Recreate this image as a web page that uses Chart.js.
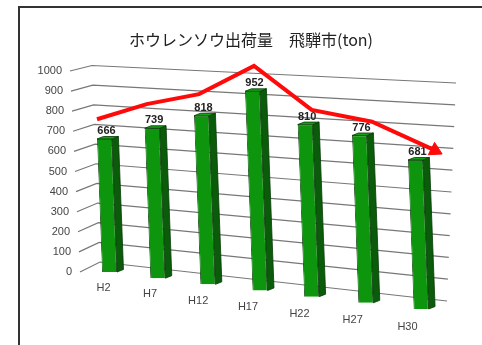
<!DOCTYPE html>
<html>
<head>
<meta charset="utf-8">
<script src="https://cdn.jsdelivr.net/npm/chart.js@4/dist/chart.umd.min.js"></script>
<style>
  html, body { margin: 0; padding: 0; background: #fff; }
  #wrap { width: 482px; height: 345px; }
</style>
</head>
<body>
<div id="wrap"><canvas id="chart" width="482" height="345"></canvas></div>
<script>
const categories = ['H2', 'H7', 'H12', 'H17', 'H22', 'H27', 'H30'];
const shipments = [666, 739, 818, 952, 810, 776, 681];
const trend = [765, 858, 923, 1073, 879, 840, 725];
const yTicks = [0, 100, 200, 300, 400, 500, 600, 700, 800, 900, 1000];

// rough perspective of the Excel 3D column chart
const lerp = (a, b, t) => a + (b - a) * t;
const colX = u => 104.5 + 311 * u + 30 * (u * u - u);
const trendX = u => 97 + 338 * u + 48 * (u * u - u);
const floorY = u => 272 + 37 * u;
const fullH = u => 199.7 + 19.1 * u;
const lean = 0.038;
// back wall: tick start (A), wall corner (B), right end (C), for value 0 and max
const wallA = [[80, 272], [70, 71]];
const wallB = [[100, 262], [92, 65.5]];
const wallC = [[447, 301], [456, 83]];
const wallPt = (w, f) => [lerp(w[0][0], w[1][0], f), lerp(w[0][1], w[1][1], f)];

function plane(chart, px, py) {
  const x = chart.scales.x, y = chart.scales.y;
  return {
    u: (px - x.left) / (x.right - x.left),
    f: (y.bottom - py) / (y.bottom - y.top)
  };
}

function leanDraw(ctx) {
  ctx.save();
  ctx.transform(1, 0, lean, 1, -lean * this.y, 0);
  Chart.BarElement.prototype.draw.call(this, ctx);
  ctx.restore();
}

const perspective = {
  id: 'perspective',
  beforeDraw(chart) {
    const ctx = chart.ctx;
    ctx.save();
    ctx.strokeStyle = '#333';
    ctx.lineWidth = 2;
    ctx.beginPath();
    ctx.moveTo(19, 345);
    ctx.lineTo(19, 7);
    ctx.lineTo(482, 7);
    ctx.stroke();
    ctx.restore();
  },
  afterDatasetsUpdate(chart) {
    chart.data.datasets.forEach((ds, di) => {
      const meta = chart.getDatasetMeta(di);
      meta.data.forEach(el => {
        const p = plane(chart, el.x, el.y);
        if (ds.type === 'bar') {
          const b = plane(chart, el.x, el.base);
          el.x = colX(p.u);
          el.y = floorY(p.u) - fullH(p.u) * p.f;
          el.base = floorY(p.u) - fullH(p.u) * b.f;
          el.width = 15;
          el.draw = leanDraw;
        } else {
          el.x = trendX(p.u);
          el.y = floorY(p.u) - fullH(p.u) * p.f;
        }
      });
    });
  },
  beforeDatasetsDraw(chart) {
    const ctx = chart.ctx;
    const ys = chart.scales.y, xs = chart.scales.x;
    ctx.save();
    ctx.strokeStyle = '#777';
    ctx.lineWidth = 1.2;
    ctx.font = '11px "Liberation Sans", Arial, sans-serif';
    ctx.fillStyle = '#444';
    ctx.textAlign = 'right';
    ctx.textBaseline = 'middle';
    yTicks.forEach(v => {
      const f = plane(chart, xs.left, ys.getPixelForValue(v)).f;
      const a = wallPt(wallA, f), b = wallPt(wallB, f), c = wallPt(wallC, f);
      ctx.beginPath();
      ctx.moveTo(a[0], a[1]);
      ctx.lineTo(b[0], b[1]);
      ctx.lineTo(c[0], c[1]);
      ctx.stroke();
      ctx.fillText(String(v), a[0] - 8, a[1]);
    });
    ctx.textAlign = 'center';
    categories.forEach((lab, i) => {
      const u = plane(chart, xs.getPixelForValue(i), ys.bottom).u;
      ctx.fillText(lab, colX(u) - 1 - 7 * u, floorY(u) + 16 + 1.5 * u);
    });
    ctx.restore();
  },
  afterDatasetDraw(chart, args) {
    const ds = chart.data.datasets[args.index];
    if (ds.type !== 'bar') return;
    const ctx = chart.ctx;
    const dx = 6.5, dy = 2.5;
    args.meta.data.forEach((el, i) => {
      const l = el.x - el.width / 2, r = el.x + el.width / 2;
      const top = el.y, base = el.base;
      ctx.save();
      ctx.transform(1, 0, lean, 1, -lean * top, 0);
      ctx.lineWidth = 0.8;
      ctx.strokeStyle = '#073a07';
      ctx.fillStyle = '#0a5c0a';
      ctx.beginPath();
      ctx.moveTo(r, top);
      ctx.lineTo(r + dx, top - dy);
      ctx.lineTo(r + dx, base - dy);
      ctx.lineTo(r, base);
      ctx.closePath();
      ctx.fill();
      ctx.stroke();
      ctx.fillStyle = '#14a014';
      ctx.beginPath();
      ctx.moveTo(l, top);
      ctx.lineTo(l + dx, top - dy);
      ctx.lineTo(r + dx, top - dy);
      ctx.lineTo(r, top);
      ctx.closePath();
      ctx.fill();
      ctx.stroke();
      ctx.restore();
      ctx.save();
      ctx.fillStyle = '#222';
      ctx.font = 'bold 11px "Liberation Sans", Arial, sans-serif';
      ctx.textAlign = 'center';
      ctx.textBaseline = 'middle';
      ctx.fillText(String(shipments[i]), el.x + 2, top - 8);
      ctx.restore();
    });
  }
};

new Chart(document.getElementById('chart'), {
  type: 'bar',
  data: {
    labels: categories,
    datasets: [
      {
        type: 'line',
        label: 'trend',
        data: trend,
        order: 0,
        clip: false,
        borderColor: '#ff0a0a',
        borderWidth: 4,
        borderJoinStyle: 'miter',
        tension: 0,
        pointRadius: trend.map((v, i) => (i === trend.length - 1 ? 8 : 0)),
        pointStyle: 'triangle',
        pointRotation: 117,
        pointBackgroundColor: '#ff0a0a',
        pointBorderColor: '#ff0a0a',
        pointBorderWidth: 1
      },
      {
        type: 'bar',
        label: 'ホウレンソウ出荷量',
        data: shipments,
        order: 1,
        clip: false,
        backgroundColor: '#0d960d',
        borderColor: '#073a07',
        borderWidth: 0.8
      }
    ]
  },
  options: {
    responsive: false,
    animation: false,
    events: [],
    layout: { padding: { left: 20 } },
    scales: {
      x: { display: false, offset: false },
      y: { display: false, min: 0, max: 1000 }
    },
    plugins: {
      legend: { display: false },
      tooltip: { enabled: false },
      title: {
        display: true,
        text: 'ホウレンソウ出荷量　飛騨市(ton)',
        color: '#222',
        font: { family: '"Noto Sans CJK JP", sans-serif', size: 16, weight: 'normal' },
        padding: { top: 30, bottom: 10 }
      }
    }
  },
  plugins: [perspective]
});
</script>
</body>
</html>
